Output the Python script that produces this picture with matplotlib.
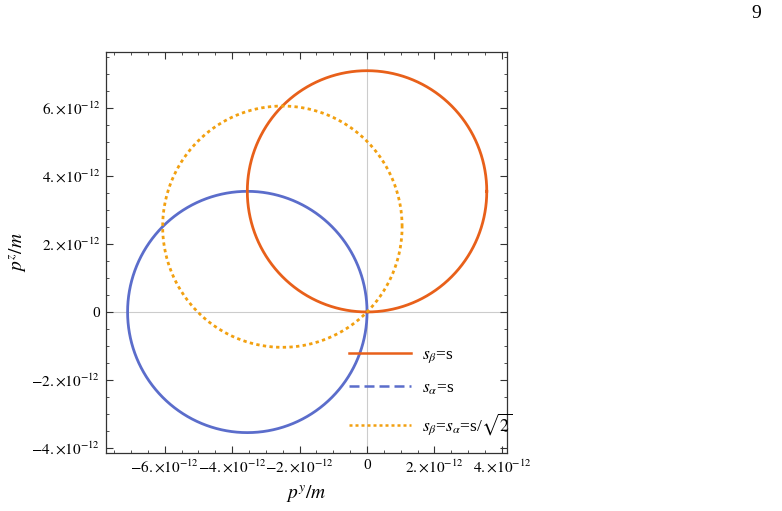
import numpy as np
import matplotlib
matplotlib.use("Agg")
import matplotlib.pyplot as plt
from matplotlib.lines import Line2D
from matplotlib.ticker import MultipleLocator, FixedLocator

plt.rcParams['font.family'] = ['Liberation Serif', 'DejaVu Serif']
plt.rcParams['mathtext.fontset'] = 'stix'

# Data: circles (center y, center z, radius) in units of 1e-12
labels = [r'$s_\beta$=s', r'$s_\alpha$=s', r'$s_\beta$=$s_\alpha$=s/$\sqrt{2}$']
center_y = [0.0, -3.55, -2.51]
center_z = [3.55, 0.0, 2.51]
radius = [3.55, 3.55, 3.55]
colors = ['#E8601A', '#5B6DCB', '#F2A010']

xticks = [-6, -4, -2, 0, 2, 4]
yticks = [-4, -2, 0, 2, 4, 6]

def fmt(v):
    if v == 0:
        return '0'
    sign = '-' if v < 0 else ''
    return r'$' + sign + str(abs(v)) + r'.{\times}10^{-12}$'

fig = plt.figure(figsize=(7.82, 5.11), dpi=100)
ax = fig.add_axes([106/782, 1-453/511, 401/782, 401/511])

ax.axhline(0, color='#cccccc', lw=0.8, zorder=0)
ax.axvline(0, color='#cccccc', lw=0.8, zorder=0)

theta = np.linspace(0, 2*np.pi, 721)
order = [1, 0, 2]
for i in order:
    ls = '-' if i != 2 else (0, (1.2, 1.2))
    ax.plot(center_y[i] + radius[i]*np.cos(theta), center_z[i] + radius[i]*np.sin(theta),
            color=colors[i], lw=2.0, linestyle=ls, zorder=2 + (i == 2))

ax.set_xlim(-7.74, 4.15)
ax.set_ylim(-4.15, 7.65)

ax.xaxis.set_major_locator(FixedLocator(xticks))
ax.yaxis.set_major_locator(FixedLocator(yticks))
ax.xaxis.set_minor_locator(MultipleLocator(0.5))
ax.yaxis.set_minor_locator(MultipleLocator(0.5))
ax.set_xticklabels([fmt(v) for v in xticks], fontsize=11)
ax.set_yticklabels([fmt(v) for v in yticks], fontsize=11)
ax.tick_params(which='both', direction='in', top=True, right=True, color='#333333')
ax.tick_params(which='major', length=5, width=0.8, pad=4)
ax.tick_params(which='minor', length=2.5, width=0.6)
for s in ax.spines.values():
    s.set_color('#333333')
    s.set_linewidth(0.9)

ax.set_xlabel(r'$p^y/m$', fontsize=14, labelpad=6)
ax.set_ylabel(r'$p^z/m$', fontsize=14, labelpad=2)

handles = [Line2D([0], [0], color=colors[0], lw=1.8, linestyle='-'),
           Line2D([0], [0], color=colors[1], lw=1.8, linestyle=(0, (4, 2))),
           Line2D([0], [0], color=colors[2], lw=1.8, linestyle=(0, (1.2, 1.2)))]
leg = ax.legend(handles, labels, loc='upper left', bbox_to_anchor=(236/401, (453-340)/401),
                frameon=False, fontsize=12.5, handlelength=3.6, labelspacing=0.85,
                handletextpad=0.6, borderaxespad=0)

fig.text(756/782, 1-14/511, '9', fontsize=14, ha='center', va='center')

fig.savefig('out.png', dpi=100)
